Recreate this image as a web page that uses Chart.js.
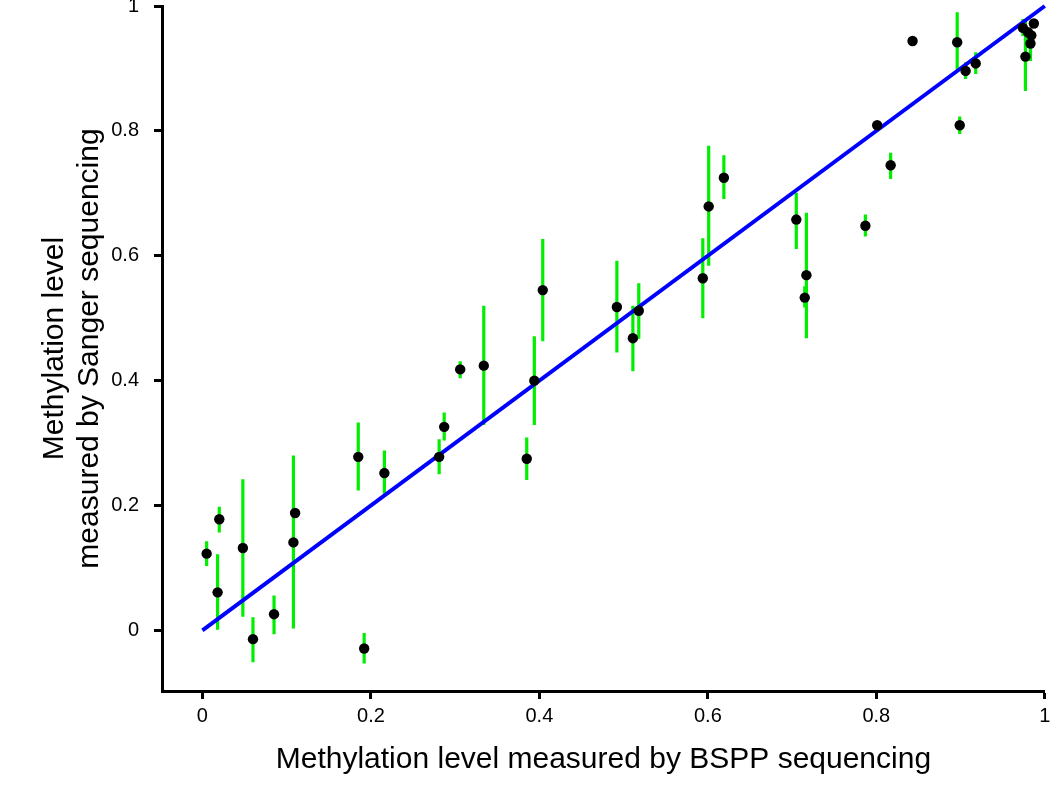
<!DOCTYPE html>
<html>
<head>
<meta charset="utf-8">
<script src="https://cdn.jsdelivr.net/npm/chart.js@4"></script>
<style>
  body { margin: 0; background: #fff; }
  #wrap { width: 1050px; height: 792px; }
</style>
</head>
<body>
<div id="wrap"><canvas id="methChart"></canvas></div>
<script>
// methylation level, BSPP (x) vs Sanger (y), with Sanger spread
const bsppLevel = [0.005, 0.020, 0.018, 0.048, 0.060, 0.085, 0.108, 0.110, 0.192, 0.185,
                   0.216, 0.281, 0.287, 0.306, 0.334, 0.394, 0.404, 0.385, 0.492, 0.511,
                   0.518, 0.594, 0.601, 0.619, 0.717, 0.715, 0.705, 0.787, 0.817, 0.801,
                   0.899, 0.843, 0.896, 0.906, 0.918, 0.987, 0.974, 0.980, 0.984, 0.983, 0.977];
const sangerLevel = [0.123, 0.178, 0.061, 0.132, -0.014, 0.026, 0.141, 0.188, -0.029, 0.278,
                     0.252, 0.278, 0.326, 0.418, 0.424, 0.400, 0.545, 0.275, 0.518, 0.468,
                     0.512, 0.564, 0.679, 0.725, 0.569, 0.533, 0.658, 0.648, 0.745, 0.809,
                     0.809, 0.944, 0.942, 0.896, 0.908, 0.972, 0.965, 0.958, 0.953, 0.940, 0.919];
const sangerLow = [0.103, 0.157, 0.001, 0.022, -0.051, -0.006, 0.003, null, -0.053, 0.224,
                   0.219, 0.250, 0.304, 0.404, 0.329, 0.329, 0.463, 0.241, 0.445, 0.415,
                   0.467, 0.500, 0.584, 0.691, 0.468, 0.517, 0.611, 0.631, 0.723, null,
                   0.795, null, 0.898, 0.883, 0.891, null, 0.952, null, null, 0.912, 0.864];
const sangerHigh = [0.143, 0.198, 0.122, 0.242, 0.021, 0.056, 0.280, null, -0.004, 0.333,
                    0.288, 0.306, 0.349, 0.431, 0.520, 0.471, 0.627, 0.309, 0.592, 0.520,
                    0.556, 0.628, 0.776, 0.761, 0.669, 0.551, 0.701, 0.666, 0.765, null,
                    0.823, null, 0.990, 0.910, 0.926, null, 0.979, null, null, 0.963, 0.979];
const diagonal = [0, 1];
const xTicks = [0, 0.2, 0.4, 0.6, 0.8, 1];
const yTicks = [0, 0.2, 0.4, 0.6, 0.8, 1];

const points = bsppLevel.map((x, i) => ({ x: x, y: sangerLevel[i] }));

// one line dataset for all error bars, broken by null gaps
const bars = [];
bsppLevel.forEach((x, i) => {
    if (sangerLow[i] === null) return;
    bars.push({ x: x, y: sangerLow[i] }, { x: x, y: sangerHigh[i] }, { x: x, y: null });
});

const fontFam = "'Liberation Sans', Arial, Helvetica, sans-serif";

new Chart(document.getElementById("methChart").getContext("2d"), {
    type: "scatter",
    data: {
        datasets: [
            {
                label: "Sanger",
                data: points,
                backgroundColor: "#000",
                borderWidth: 0,
                pointRadius: 5.2,
                order: 0,
                clip: false
            },
            {
                label: "y = x",
                type: "line",
                data: diagonal.map(v => ({ x: v, y: v })),
                borderColor: "#0000ff",
                borderWidth: 4,
                pointRadius: 0,
                order: 1,
                clip: false
            },
            {
                label: "spread",
                type: "line",
                data: bars,
                borderColor: "#00ee00",
                borderWidth: 3.2,
                borderCapStyle: "butt",
                pointRadius: 0,
                spanGaps: false,
                order: 2
            }
        ]
    },
    options: {
        responsive: true,
        maintainAspectRatio: false,
        animation: false,
        layout: { padding: { left: 28, right: -2, top: 6, bottom: 14 } },
        plugins: {
            legend: { display: false },
            tooltip: { enabled: false }
        },
        scales: {
            x: {
                type: "linear",
                min: -0.048,
                max: 1,
                afterBuildTicks: axis => { axis.ticks = xTicks.map(v => ({ value: v })); },
                afterFit: axis => { axis.height = 87; axis.paddingRight = 0; axis.paddingLeft = 0; },
                grid: { drawOnChartArea: false, drawTicks: true, tickLength: 8, tickWidth: 3, tickColor: "#000" },
                border: { display: true, color: "#000", width: 3 },
                ticks: { color: "#000", padding: 5, font: { family: fontFam, size: 20 }, callback: v => String(v) },
                title: {
                    display: true,
                    text: "Methylation level measured by BSPP sequencing",
                    color: "#000",
                    font: { family: fontFam, size: 30 },
                    padding: { top: 14, bottom: 0 }
                }
            },
            y: {
                type: "linear",
                min: -0.097,
                max: 1,
                afterBuildTicks: axis => { axis.ticks = yTicks.map(v => ({ value: v })); },
                afterFit: axis => { axis.width = 134; axis.paddingTop = 0; axis.paddingBottom = 0; },
                grid: { drawOnChartArea: false, drawTicks: true, tickLength: 8, tickWidth: 3, tickColor: "#000" },
                border: { display: true, color: "#000", width: 3 },
                ticks: { color: "#000", padding: 15, font: { family: fontFam, size: 20 }, callback: v => String(v) },
                title: {
                    display: true,
                    text: ["Methylation level", "measured by Sanger sequencing"],
                    color: "#000",
                    font: { family: fontFam, size: 30, lineHeight: 1.17 },
                    padding: { top: 9, bottom: 5 }
                }
            }
        }
    }
});
</script>
</body>
</html>
